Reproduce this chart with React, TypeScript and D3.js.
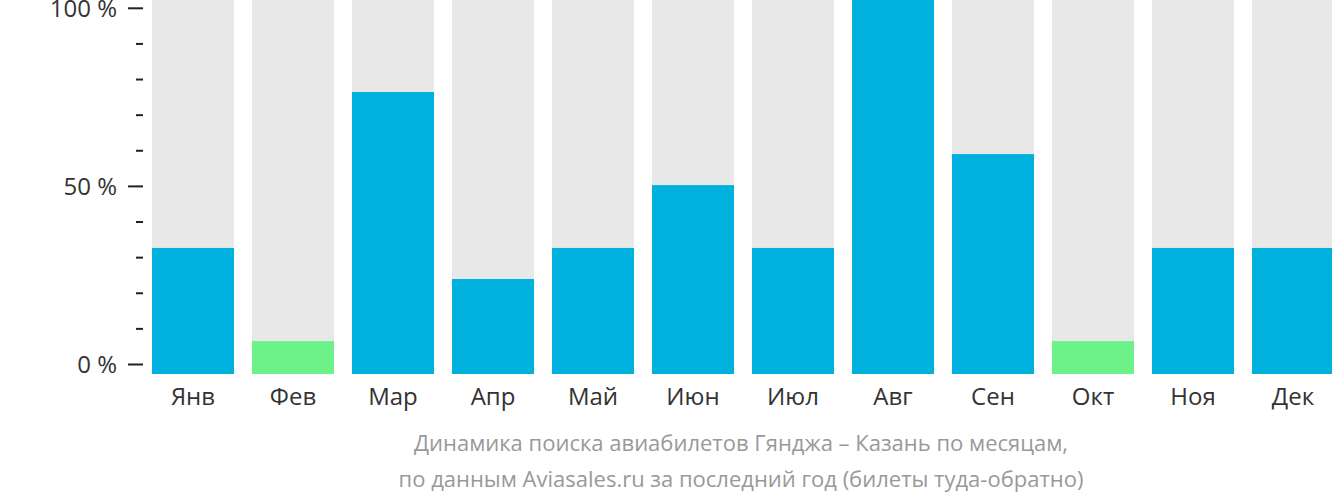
import React from 'react';
import * as d3 from 'd3';

const months = ['Янв', 'Фев', 'Мар', 'Апр', 'Май', 'Июн', 'Июл', 'Авг', 'Сен', 'Окт', 'Ноя', 'Дек'];
const values = [33.7, 8.8, 75.4, 25.4, 33.7, 50.5, 33.7, 100, 58.8, 8.8, 33.7, 33.7];
const lowMonths = ['Фев', 'Окт'];
const majorTicks = [0, 50, 100];
const minorTicks = [10, 20, 30, 40, 60, 70, 80, 90];
const footer = [
  'Динамика поиска авиабилетов Гянджа – Казань по месяцам,',
  'по данным Aviasales.ru за последний год (билеты туда-обратно)',
];

const W = 1332;
const H = 502;
const font = '"Open Sans", sans-serif';

export default function App() {
  const x = d3.scaleBand<string>()
    .domain(months)
    .range([143, 1343])
    .paddingInner(0.18)
    .paddingOuter(0.09);

  // bars fill from the baseline to the top of the svg
  const yBar = d3.scaleLinear().domain([0, 100]).range([374, 0]);
  // axis ticks sit slightly inside
  const yAxis = d3.scaleLinear().domain([0, 100]).range([364.5, 8.3]);

  return (
    <svg
      width={W}
      height={H}
      style={{ position: 'absolute', left: 0, top: 0, background: '#fff' }}
    >
      {months.map((m, i) => (
        <g key={m}>
          <rect
            x={x(m)}
            y={yBar(100)}
            width={x.bandwidth()}
            height={yBar(0) - yBar(100)}
            fill="#e8e8e8"
          />
          <rect
            x={x(m)}
            y={yBar(values[i])}
            width={x.bandwidth()}
            height={yBar(0) - yBar(values[i])}
            fill={lowMonths.includes(m) ? '#6cf288' : '#00b1dd'}
          />
          <text
            x={(x(m) ?? 0) + x.bandwidth() / 2}
            y={405}
            textAnchor="middle"
            fontFamily={font}
            fontSize={24}
            fill="#333"
          >
            {m}
          </text>
        </g>
      ))}

      {majorTicks.map(t => (
        <g key={t}>
          <line x1={128} x2={143} y1={yAxis(t)} y2={yAxis(t)} stroke="#222" strokeWidth={2} />
          <text
            x={117}
            y={yAxis(t)}
            dy="0.36em"
            textAnchor="end"
            fontFamily={font}
            fontSize={24}
            fill="#333"
          >
            {`${t} %`}
          </text>
        </g>
      ))}
      {minorTicks.map(t => (
        <line key={t} x1={136} x2={143} y1={yAxis(t)} y2={yAxis(t)} stroke="#222" strokeWidth={2} />
      ))}

      {footer.map((line, i) => (
        <text
          key={i}
          x={741}
          y={451 + i * 36}
          textAnchor="middle"
          fontFamily={font}
          fontSize={22}
          fill="#999"
        >
          {line}
        </text>
      ))}
    </svg>
  );
}
